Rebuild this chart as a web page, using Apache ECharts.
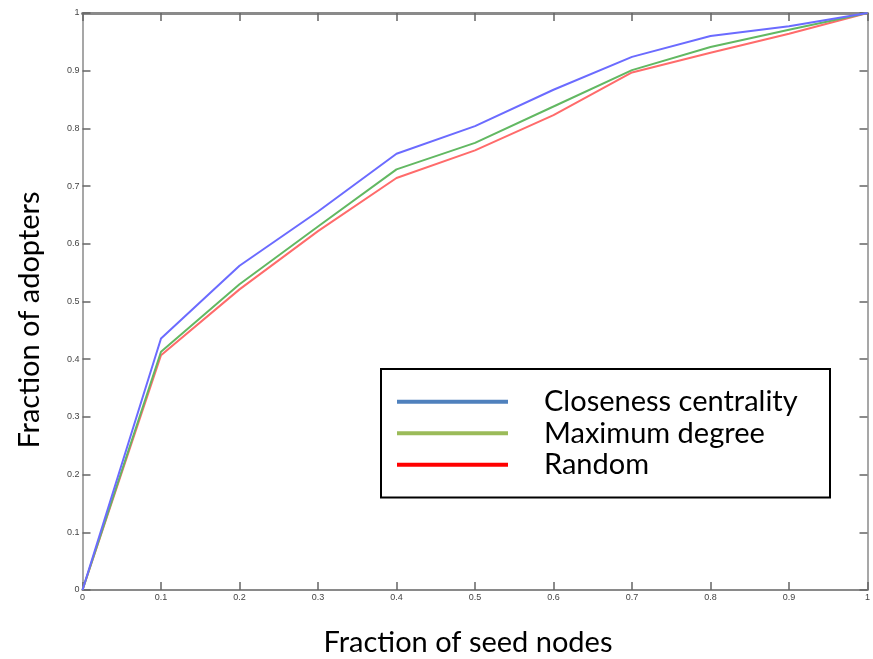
<!DOCTYPE html>
<html>
<head>
<meta charset="utf-8">
<script src="https://cdn.jsdelivr.net/npm/echarts@6/dist/echarts.min.js"></script>
<style>
  html, body { margin: 0; padding: 0; background: #fff; }
  #chart { width: 873px; height: 659px; }
</style>
</head>
<body>
<div id="chart"></div>
<script>
// Fraction of seed nodes on the x axis
const seedFraction = [0, 0.1, 0.2, 0.3, 0.4, 0.5, 0.6, 0.7, 0.8, 0.9, 1];
// Fraction of adopters reached for each seeding strategy
const closeness = [0, 0.436, 0.562, 0.656, 0.756, 0.804, 0.867, 0.924, 0.960, 0.977, 1];
const maxDegree = [0, 0.413, 0.530, 0.630, 0.729, 0.775, 0.838, 0.901, 0.941, 0.971, 1];
const randomSeed = [0, 0.407, 0.521, 0.622, 0.714, 0.762, 0.823, 0.897, 0.931, 0.964, 1];
const seriesNames = ['Closeness centrality', 'Maximum degree', 'Random'];

const lineColors = ['#6b6bff', '#62b862', '#ff6b6b'];
const keyColors = ['#4F81BD', '#9BBB59', '#FF0000'];
const axisGray = '#8a8a8a';
const titleFont = 'Lato, "Open Sans", sans-serif';

const pairs = ys => seedFraction.map((x, i) => [x, ys[i]]);

const tickAxisBase = {
  type: 'value', min: 0, max: 1, interval: 0.1,
  splitLine: { show: false },
  axisTick: { show: true, inside: true, length: 8, lineStyle: { color: '#666', width: 1.5 } },
};

const chart = echarts.init(document.getElementById('chart'));
chart.setOption({
  animation: false,
  backgroundColor: '#fff',
  grid: { left: 82.5, right: 0.5, top: 13, bottom: 69, containLabel: false },
  xAxis: [
    Object.assign({}, tickAxisBase, {
      position: 'bottom',
      axisLine: { show: true, onZero: false, lineStyle: { color: axisGray, width: 2 } },
      axisLabel: { show: true, fontSize: 9, color: '#444', fontFamily: 'Arial, "Liberation Sans", sans-serif', margin: 3 }
    }),
    Object.assign({}, tickAxisBase, {
      position: 'top',
      axisLine: { show: true, onZero: false, lineStyle: { color: axisGray, width: 3 } },
      axisLabel: { show: false }
    })
  ],
  yAxis: [
    Object.assign({}, tickAxisBase, {
      position: 'left',
      axisLine: { show: true, onZero: false, lineStyle: { color: axisGray, width: 1.5 } },
      axisLabel: { show: true, fontSize: 9, color: '#444', fontFamily: 'Arial, "Liberation Sans", sans-serif', margin: 3 }
    }),
    Object.assign({}, tickAxisBase, {
      position: 'right',
      axisLine: { show: true, onZero: false, lineStyle: { color: axisGray, width: 1.5 } },
      axisLabel: { show: false }
    })
  ],
  legend: {
    orient: 'vertical',
    left: 381, top: 369,
    padding: [17, 28, 17, 16],
    borderColor: '#000', borderWidth: 2,
    backgroundColor: '#fff',
    itemGap: 0,
    itemWidth: 111, itemHeight: 4,
    icon: 'rect',
    textStyle: {
      fontFamily: titleFont, fontSize: 29, color: '#000',
      lineHeight: 31.5, padding: [0, 0, 0, 31], width: 258
    },
    data: seriesNames.map((n, i) => ({ name: n, itemStyle: { color: keyColors[i] } }))
  },
  graphic: [
    {
      type: 'text', x: 468, y: 643,
      style: { text: 'Fraction of seed nodes', font: '29px ' + titleFont, fill: '#000', align: 'center', verticalAlign: 'middle' }
    },
    {
      type: 'text', x: 30, y: 320, rotation: Math.PI / 2,
      style: { text: 'Fraction of adopters', font: '29px ' + titleFont, fill: '#000', align: 'center', verticalAlign: 'middle' }
    }
  ],
  series: [closeness, maxDegree, randomSeed].map((ys, i) => ({
    name: seriesNames[i],
    type: 'line',
    data: pairs(ys),
    showSymbol: false,
    symbol: 'none',
    lineStyle: { color: lineColors[i], width: 2 },
    itemStyle: { color: lineColors[i] },
    z: 3 - i
  }))
});
</script>
</body>
</html>
